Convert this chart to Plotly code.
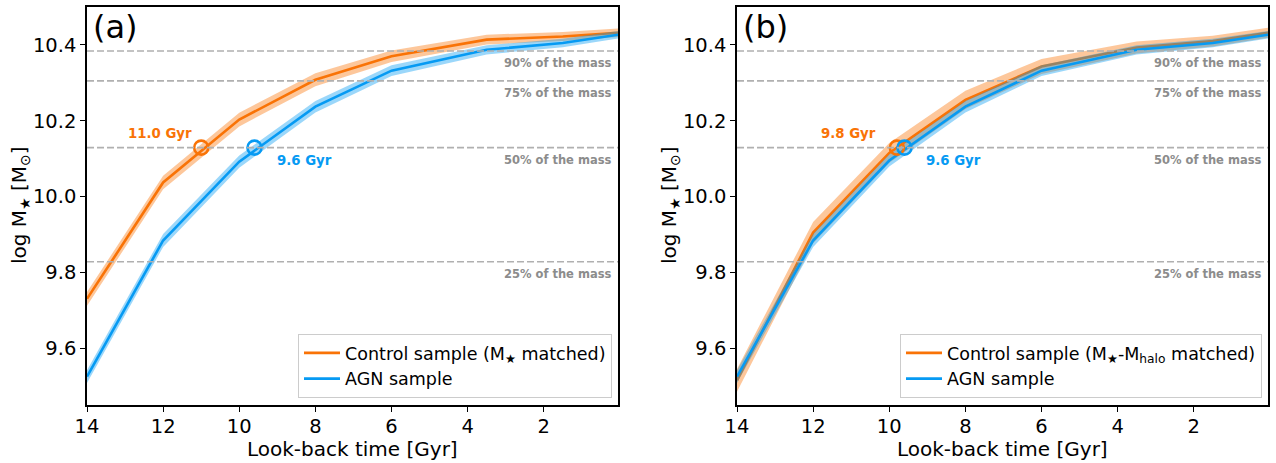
import plotly.graph_objects as go

# ---------------- data ----------------
time_gyr = [14.0, 12.0, 10.0, 8.0, 6.0, 3.5, 1.5, 0.05]

# panel (a)
ctrl_a = [9.730, 10.037, 10.203, 10.308, 10.370, 10.414, 10.422, 10.432]
ctrl_a_err = [0.018, 0.018, 0.018, 0.017, 0.015, 0.013, 0.012, 0.011]
agn_a = [9.525, 9.884, 10.092, 10.237, 10.332, 10.387, 10.405, 10.427]
agn_a_err = [0.017, 0.017, 0.016, 0.015, 0.014, 0.012, 0.011, 0.010]

# panel (b)
ctrl_b = [9.515, 9.905, 10.115, 10.255, 10.343, 10.393, 10.410, 10.432]
ctrl_b_err = [0.030, 0.028, 0.026, 0.024, 0.020, 0.016, 0.014, 0.013]
agn_b = [9.525, 9.884, 10.095, 10.237, 10.332, 10.387, 10.405, 10.427]
agn_b_err = [0.017, 0.017, 0.016, 0.015, 0.014, 0.012, 0.011, 0.010]

mass_levels = [10.384, 10.305, 10.129, 9.828]
mass_labels = ["90% of the mass", "75% of the mass", "50% of the mass", "25% of the mass"]

half_a = {"ctrl": 11.0, "agn": 9.6}
half_b = {"ctrl": 9.8, "agn": 9.6}
half_level = 10.129

x_ticks = [14, 12, 10, 8, 6, 4, 2]
y_ticks = [9.6, 9.8, 10.0, 10.2, 10.4]

# ---------------- style ----------------
ORANGE = "#f97306"
BLUE = "#069af3"
ORANGE_FILL = "rgba(249,115,6,0.40)"
BLUE_FILL = "rgba(6,154,243,0.40)"
FONT = "DejaVu Sans"

fig = go.Figure()


def add_series(xref, yref, y, err, color, fill, name, legend, showlegend):
    upper = [v + e for v, e in zip(y, err)]
    lower = [v - e for v, e in zip(y, err)]
    fig.add_trace(go.Scatter(
        x=time_gyr + time_gyr[::-1], y=upper + lower[::-1],
        fill="toself", fillcolor=fill, line=dict(width=0),
        mode="lines", hoverinfo="skip", showlegend=False,
        xaxis=xref, yaxis=yref))
    fig.add_trace(go.Scatter(
        x=time_gyr, y=y, mode="lines", line=dict(color=color, width=2.6),
        name=name, legend=legend, showlegend=showlegend,
        xaxis=xref, yaxis=yref))


add_series("x", "y", ctrl_a, ctrl_a_err, ORANGE, ORANGE_FILL,
           "Control sample (M<sub>★</sub> matched)", "legend", True)
add_series("x", "y", agn_a, agn_a_err, BLUE, BLUE_FILL, "AGN sample", "legend", True)
add_series("x2", "y2", ctrl_b, ctrl_b_err, ORANGE, ORANGE_FILL,
           "Control sample (M<sub>★</sub>-M<sub>halo</sub> matched)", "legend2", True)
add_series("x2", "y2", agn_b, agn_b_err, BLUE, BLUE_FILL, "AGN sample", "legend2", True)

# half-mass markers
for xref, yref, halves in (("x", "y", half_a), ("x2", "y2", half_b)):
    for key, color in (("ctrl", ORANGE), ("agn", BLUE)):
        fig.add_trace(go.Scatter(
            x=[halves[key]], y=[half_level], mode="markers",
            marker=dict(symbol="circle-open", size=14, color=color,
                        line=dict(width=2.6, color=color)),
            showlegend=False, hoverinfo="skip", xaxis=xref, yaxis=yref))

# horizontal mass-fraction lines and labels
for xref, yref, xdom in (("x", "y", "x domain"), ("x2", "y2", "x2 domain")):
    for lvl, lab in zip(mass_levels, mass_labels):
        fig.add_shape(type="line", xref=xdom, yref=yref, x0=0, x1=1, y0=lvl, y1=lvl,
                      line=dict(color="#b0b0b0", width=1.6, dash="7px,3px"), layer="above")
        fig.add_annotation(xref=xdom, yref=yref, x=0.993, y=lvl, text="<b>" + lab + "</b>",
                           showarrow=False, xanchor="right", yanchor="top", yshift=-3,
                           font=dict(family=FONT, size=11.5, color="#8c8c8c"))


# Gyr labels
def gyr_label(xref, yref, xv, text, color, xs, ys):
    fig.add_annotation(xref=xref, yref=yref, x=xv, y=half_level, text="<b>" + text + "</b>",
                       showarrow=False, xanchor="center", yanchor="middle",
                       xshift=xs, yshift=ys, font=dict(family=FONT, size=13.3, color=color))


gyr_label("x", "y", half_a["ctrl"], "%.1f Gyr" % half_a["ctrl"], ORANGE, -41, 14)
gyr_label("x", "y", half_a["agn"], "%.1f Gyr" % half_a["agn"], BLUE, 50, -13)
gyr_label("x2", "y2", half_b["ctrl"], "%.1f Gyr" % half_b["ctrl"], ORANGE, -48, 14)
gyr_label("x2", "y2", half_b["agn"], "%.1f Gyr" % half_b["agn"], BLUE, 49, -13)

# panel labels
for dom, lab in (("x domain", "(a)"), ("x2 domain", "(b)")):
    fig.add_annotation(xref=dom, yref="paper", x=0.008, y=1 - 6 / 463, text=lab,
                       showarrow=False, xanchor="left", yanchor="top",
                       font=dict(family=FONT, size=32, color="black"))

# axis titles as annotations (exact placement)
for cx in (352.5, 1002.5):
    fig.add_annotation(xref="paper", yref="paper", x=cx / 1276, y=1 - 449 / 463,
                       text="Look-back time [Gyr]", showarrow=False,
                       xanchor="center", yanchor="middle",
                       font=dict(family=FONT, size=20, color="black"))
for cx in (20, 670):
    fig.add_annotation(xref="paper", yref="paper", x=cx / 1276, y=1 - 205 / 463,
                       text="log M<sub>★</sub> [M<sub>⊙</sub>]", showarrow=False,
                       textangle=-90, xanchor="center", yanchor="middle",
                       font=dict(family=FONT, size=20, color="black"))

axis_common = dict(showgrid=False, zeroline=False, showline=True, mirror=True,
                   linecolor="black", linewidth=1.6, ticks="outside", ticklen=5,
                   tickwidth=1.2, tickcolor="black", automargin=False,
                   tickfont=dict(family=FONT, size=19.5, color="black"))

xaxis_cfg = dict(axis_common, range=[14, 0.05], tickvals=x_ticks,
                 ticktext=[str(t) for t in x_ticks], ticklabelstandoff=-2)
yaxis_cfg = dict(axis_common, range=[9.45, 10.5], tickvals=y_ticks,
                 ticktext=["%.1f" % t for t in y_ticks])

legend_common = dict(yanchor="bottom", xanchor="right",
                     bgcolor="rgba(255,255,255,0.85)", bordercolor="#cccccc", borderwidth=1,
                     font=dict(family=FONT, size=17.5, color="black"), tracegroupgap=0,
                     itemwidth=36)

fig.update_layout(
    width=1276, height=463,
    margin=dict(l=0, r=0, t=0, b=0),
    paper_bgcolor="white", plot_bgcolor="white",
    font=dict(family=FONT, color="black"),
    xaxis=dict(xaxis_cfg, domain=[87 / 1276, 618 / 1276], anchor="y"),
    yaxis=dict(yaxis_cfg, domain=[1 - 405 / 463, 1 - 7 / 463], anchor="x"),
    xaxis2=dict(xaxis_cfg, domain=[737 / 1276, 1268 / 1276], anchor="y2"),
    yaxis2=dict(yaxis_cfg, domain=[1 - 405 / 463, 1 - 7 / 463], anchor="x2"),
    legend=dict(legend_common, x=612 / 1276, y=1 - 398 / 463),
    legend2=dict(legend_common, x=1262 / 1276, y=1 - 398 / 463),
)

fig.write_html("out.html")
